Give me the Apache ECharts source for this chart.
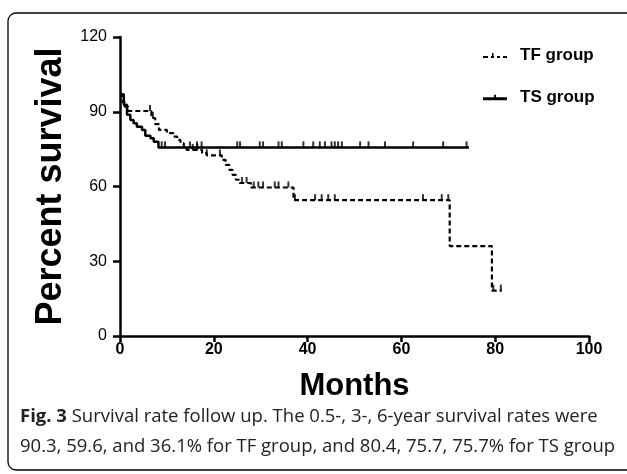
<!DOCTYPE html>
<html><head><meta charset="utf-8">
<script src="https://cdn.jsdelivr.net/npm/echarts@6/dist/echarts.min.js"></script>
<style>html,body{margin:0;padding:0;background:#fff}#c{width:627px;height:474px}</style>
</head><body><div id="c"></div>
<script>
// Kaplan-Meier step data [months, percent survival]
var tfSteps = [[0,97],[0.5,94],[1,92],[1.8,90.3],[6.7,87.5],[7.5,85],[8.3,82.7],[10,81.4],[11.4,80],[12.2,78.7],[12.9,77.4],[13.6,76],[14.2,74.7],[17.5,73.4],[18.5,72.5],[21.7,70.7],[22.5,68.7],[23.3,66.7],[24,64.7],[24.7,62.7],[25.5,61.4],[27.9,59.6],[37,54.5],[70.3,36.1],[79.3,18.2],[81.4,18.2]];
var tsSteps = [[0,97],[0.8,92.8],[1.5,88.8],[2.2,86.7],[2.9,85.4],[3.6,84],[4.7,82.7],[5.4,80.4],[6.5,79.4],[7.2,78],[8.2,75.7],[74.4,75.7]];
// censored observation times (months)
var tfCensor = [6.4,7,15.5,16.5,18.5,21.3,26,27,28.5,29.5,30.5,33,33.8,35.9,37.3,41.6,43,44.4,45.8,64.6,68.6,70,79.6,81.2];
var tsCensor = [8.9,9.6,14.9,16.4,17.4,25,25.6,29.8,30.5,33.8,34.5,39.1,41.2,42.6,43.7,45.1,45.8,46.5,47.3,51.2,53,56.5,62.5,68.9,73.9];
var xTicks = [0,20,40,60,80,100];
var yTicks = [0,30,60,90,120];

function survAt(steps, t){ var v = steps[0][1]; for (var i=0;i<steps.length;i++){ if (steps[i][0] <= t) v = steps[i][1]; } return v; }
var tfCensorPts = tfCensor.map(function(t){return [t, survAt(tfSteps,t)];});
var tsCensorPts = tsCensor.map(function(t){return [t, survAt(tsSteps,t)];});

var chart = echarts.init(document.getElementById('c'), null, {renderer:'canvas'});
var axisFont = 'Liberation Sans, Arial, sans-serif';
var tfIcon = 'path://M0,6h5v2h-5z M8,6h3v2h-3z M9,3h1.5v3h-1.5z M14,6h3v2h-3z M20,6h4v2h-4z';
var tsIcon = 'path://M0,5.5h24v3h-24z M11,3h2v3h-2z';
chart.setOption({
  animation:false,
  backgroundColor:'#fff',
  grid:{left:120,right:38,top:37,bottom:138,containLabel:false},
  xAxis:{type:'value',min:xTicks[0],max:xTicks[xTicks.length-1],interval:20,
    name:'Months',nameLocation:'middle',nameGap:35,
    nameTextStyle:{fontFamily:axisFont,fontWeight:'bold',fontSize:31,color:'#000'},
    axisLine:{lineStyle:{color:'#000',width:2.5}},
    axisTick:{show:true,length:6,lineStyle:{color:'#000',width:2.5}},
    axisLabel:{fontFamily:axisFont,fontWeight:'bold',fontSize:16,color:'#000',margin:6},
    splitLine:{show:false}},
  yAxis:{type:'value',min:yTicks[0],max:yTicks[yTicks.length-1],interval:30,
    name:'Percent survival',nameLocation:'middle',nameGap:49,nameRotate:90,
    nameTextStyle:{fontFamily:axisFont,fontWeight:'bold',fontSize:36,color:'#000'},
    axisLine:{show:true,lineStyle:{color:'#000',width:2.5}},
    axisTick:{show:true,length:7,lineStyle:{color:'#000',width:2.5}},
    axisLabel:{fontFamily:axisFont,fontSize:16,color:'#000',margin:13},
    splitLine:{show:false}},
  legend:{orient:'vertical',left:478,top:42,itemGap:25,itemWidth:24,itemHeight:12,
    data:[{name:'TF group',icon:tfIcon},{name:'TS group',icon:tsIcon}],
    itemStyle:{color:'#000'},
    textStyle:{fontFamily:axisFont,fontWeight:'bold',fontSize:17,color:'#000',padding:[0,0,0,8]}},
  series:[
    {name:'TF group',type:'line',step:'end',data:tfSteps,symbol:'none',
      lineStyle:{color:'#000',width:2.2,type:[5,3]},itemStyle:{color:'#000'},z:3},
    {name:'TS group',type:'line',step:'end',data:tsSteps,symbol:'none',
      lineStyle:{color:'#000',width:2.5,type:'solid'},itemStyle:{color:'#000'},z:3},
    {name:'tfc',type:'scatter',data:tfCensorPts,symbol:'rect',symbolSize:[2,6],symbolOffset:[0,-3],
      itemStyle:{color:'#000'},silent:true,z:4},
    {name:'tsc',type:'scatter',data:tsCensorPts,symbol:'rect',symbolSize:[2,6],symbolOffset:[0,-3],
      itemStyle:{color:'#000'},silent:true,z:4}
  ],
  graphic:{elements:[
    {id:'border',type:'rect',shape:{x:8,y:13,width:640,height:457,r:8},style:{fill:'none',stroke:'#000',lineWidth:1.3},z:-1,silent:true},
    {id:'caption',type:'text',left:20,top:402,style:{
      text:'{b|Fig. 3} Survival rate follow up. The 0.5-, 3-, 6-year survival rates were\n90.3, 59.6, and 36.1% for TF group, and 80.4, 75.7, 75.7% for TS group',
      fontFamily:'Open Sans, sans-serif',fontSize:18.5,lineHeight:30,fill:'#222',
      rich:{b:{fontFamily:'Open Sans, sans-serif',fontWeight:'bold',fontSize:18.5,fill:'#222'}}
    }}
  ]}
});
</script></body></html>
